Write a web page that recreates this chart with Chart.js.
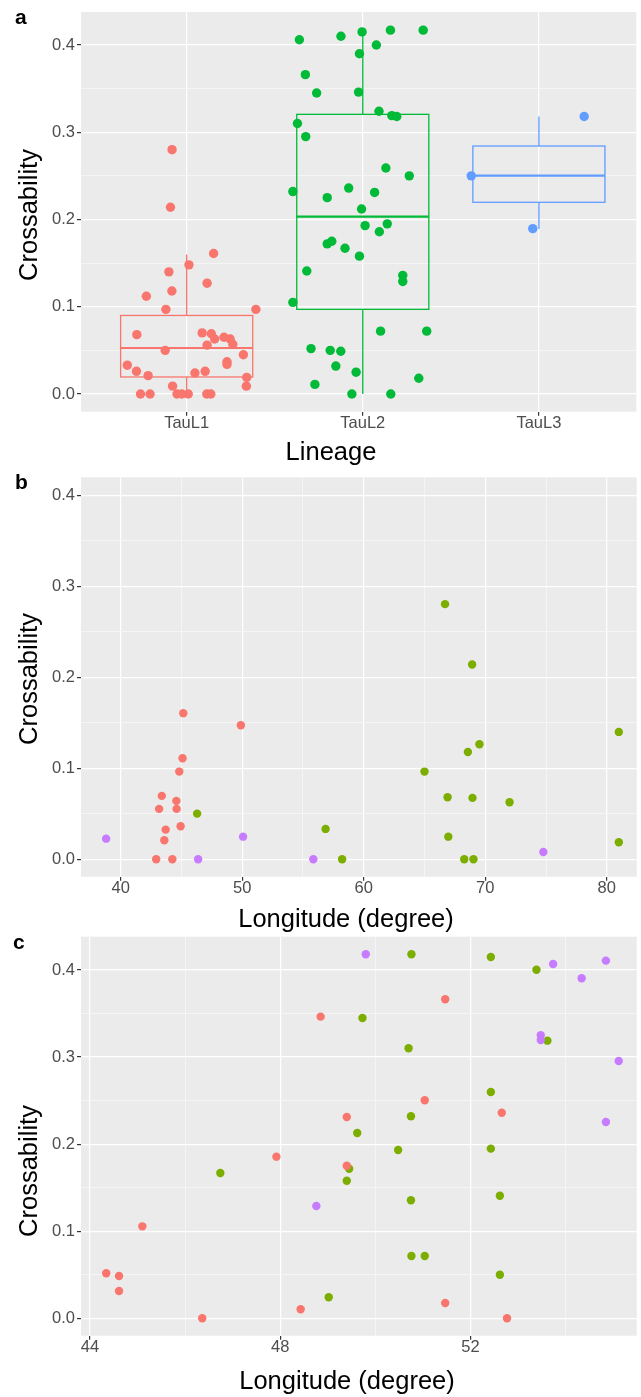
<!DOCTYPE html>
<html>
<head>
<meta charset="utf-8">
<script src="https://cdn.jsdelivr.net/npm/chart.js@4.4.1/dist/chart.umd.min.js"></script>
<style>
  body { margin: 0; background: #fff; width: 641px; height: 1397px; position: relative; overflow: hidden;
         font-family: "Liberation Sans", Arial, sans-serif; color: #000; }
  canvas { position: absolute; left: 0; }
  .tag { position: absolute; font-weight: bold; font-size: 21px; line-height: 1; }
  .xt { position: absolute; font-size: 25.5px; line-height: 1; transform: translateX(-50%); white-space: nowrap; }
  .yt { position: absolute; font-size: 25.5px; line-height: 1; transform: translate(-50%, -50%) rotate(-90deg); white-space: nowrap; }
</style>
</head>
<body>
<canvas id="chartA" width="641" height="470" style="top:0px"></canvas>
<canvas id="chartB" width="641" height="440" style="top:470px"></canvas>
<canvas id="chartC" width="641" height="487" style="top:910px"></canvas>

<div class="tag" style="left:15px; top:5.5px">a</div>
<div class="tag" style="left:15px; top:470.5px">b</div>
<div class="tag" style="left:13px; top:931px">c</div>

<div class="yt" style="left:29px; top:215px">Crossability</div>
<div class="yt" style="left:29px; top:679px">Crossability</div>
<div class="yt" style="left:29px; top:1171px">Crossability</div>

<div class="xt" style="left:331px; top:438.5px">Lineage</div>
<div class="xt" style="left:346px; top:905.7px">Longitude (degree)</div>
<div class="xt" style="left:347px; top:1368.4px">Longitude (degree)</div>

<script>
// ---- panel a: crossability by lineage (jittered points + boxes) ----
const lineages = ['TauL1', 'TauL2', 'TauL3'];

const tauL1Jitter = [0.917, 0.908, 1.153, 1.013, 0.899, 1.116, 0.916, 0.771, 0.882, 1.393, 0.717, 1.088, 1.140,
  1.159, 1.212, 1.247, 1.262, 1.116, 0.878, 1.322, 1.229, 1.229, 0.663, 0.715, 0.781, 1.047, 1.105, 1.341,
  0.920, 1.339, 0.738, 0.792, 0.945, 0.972, 1.009, 1.114, 1.137];
const tauL1Cross = [0.280, 0.214, 0.161, 0.148, 0.140, 0.127, 0.118, 0.112, 0.097, 0.097, 0.068, 0.070, 0.069,
  0.063, 0.065, 0.063, 0.057, 0.056, 0.050, 0.045, 0.037, 0.034, 0.033, 0.026, 0.021, 0.024, 0.026, 0.019,
  0.009, 0.009, 0, 0, 0, 0, 0, 0, 0];

const tauL2Jitter = [1.640, 1.876, 1.996, 2.157, 2.343, 2.077, 1.981, 1.674, 1.738, 1.976, 2.092, 2.165, 2.193,
  1.629, 1.676, 2.131, 2.264, 1.603, 1.920, 2.067, 1.798, 1.993, 2.013, 2.139, 2.094, 1.798, 1.824, 1.899,
  1.981, 1.682, 2.227, 2.227, 1.603, 2.101, 2.363, 1.706, 1.815, 1.875, 1.847, 1.962, 2.318, 1.728, 1.938, 2.159];
const tauL2Cross = [0.406, 0.410, 0.415, 0.417, 0.417, 0.400, 0.390, 0.366, 0.345, 0.346, 0.324, 0.319, 0.318,
  0.310, 0.295, 0.259, 0.250, 0.232, 0.236, 0.231, 0.225, 0.212, 0.193, 0.195, 0.186, 0.172, 0.175, 0.167,
  0.158, 0.141, 0.136, 0.129, 0.105, 0.072, 0.072, 0.052, 0.050, 0.049, 0.032, 0.025, 0.018, 0.011, 0, 0];

const tauL3Jitter = [3.257, 2.616, 2.965];
const tauL3Cross = [0.318, 0.250, 0.1895];

const boxLow = [0, 0, 0.189];
const boxQ1 = [0.0195, 0.097, 0.2197];
const boxMedian = [0.0527, 0.2032, 0.2502];
const boxQ3 = [0.090, 0.3205, 0.2842];
const boxHigh = [0.160, 0.416, 0.318];

// ---- panel b: crossability vs longitude ----
const bGroup1Lon = [45.15, 49.89, 45.09, 44.82, 43.38, 44.58, 43.16, 44.60, 44.93, 43.70, 43.59, 42.92, 44.25];
const bGroup1Cross = [0.1606, 0.1474, 0.1111, 0.0964, 0.0697, 0.0642, 0.0554, 0.0554, 0.0363, 0.0326, 0.0209, 0, 0];
const bGroup2Lon = [46.29, 66.69, 68.92, 80.99, 69.52, 68.57, 65.0, 66.90, 68.95, 72.0, 56.86, 66.96, 80.99, 58.22, 68.27, 69.03];
const bGroup2Cross = [0.0502, 0.2804, 0.2141, 0.1400, 0.1265, 0.1180, 0.0964, 0.0682, 0.0675, 0.0627, 0.0334, 0.0249, 0.0187, 0, 0, 0];
const bGroup3Lon = [38.80, 50.07, 46.37, 55.85, 74.78];
const bGroup3Cross = [0.0227, 0.0249, 0, 0, 0.0081];

// ---- panel c: crossability vs longitude ----
const cGroup1Lon = [48.85, 47.92, 45.10, 44.34, 44.61, 44.61, 46.36, 48.43, 51.47, 51.04, 49.40, 52.66, 49.40, 51.47, 52.77];
const cGroup1Cross = [0.3464, 0.1856, 0.1056, 0.0517, 0.0486, 0.0314, 0, 0.0103, 0.3663, 0.2503, 0.2312, 0.2361, 0.1752, 0.0176, 0];
const cGroup2Lon = [46.74, 50.76, 52.43, 53.39, 49.73, 53.62, 50.70, 52.43, 50.75, 49.62, 50.48, 52.43, 49.45, 49.40,
  52.62, 50.75, 50.76, 51.04, 52.62, 49.02];
const cGroup2Cross = [0.1669, 0.418, 0.4149, 0.4003, 0.3449, 0.3188, 0.3101, 0.2599, 0.232, 0.2128, 0.1933, 0.1948,
  0.1718, 0.158, 0.1408, 0.1355, 0.0715, 0.0715, 0.05, 0.0241];
const cGroup3Lon = [49.80, 53.74, 54.85, 54.34, 53.48, 53.48, 55.12, 54.85, 48.76];
const cGroup3Cross = [0.418, 0.4069, 0.4107, 0.3904, 0.325, 0.3196, 0.2955, 0.2254, 0.129];

// ---- ticks ----
const crossTicks = [0, 0.1, 0.2, 0.3, 0.4];
const crossTickLabels = ['0.0', '0.1', '0.2', '0.3', '0.4'];
const crossMinor = [0.05, 0.15, 0.25, 0.35];
const lineageTicks = [1, 2, 3];
const lonTicksB = [40, 50, 60, 70, 80];
const lonLabelsB = ['40', '50', '60', '70', '80'];
const lonMinorB = [45, 55, 65, 75];
const lonTicksC = [44, 48, 52];
const lonLabelsC = ['44', '48', '52'];
const lonMinorC = [46, 50, 54];

// ---- styling ----
const lineageColors = ['#F8766D', '#00BA38', '#619CFF'];
const groupColors = ['#F8766D', '#7CAE00', '#C77CFF'];
const tickFont = { family: '"Liberation Sans", Arial, sans-serif', size: 16.5, lineHeight: 1 };
const boxHalf = 0.375;

const near = (a, b) => Math.abs(a - b) < 1e-6;
const isMajor = (v, major) => major.some(m => near(m, v));
const pts = (xs, ys) => xs.map((v, i) => ({ x: v, y: ys[i] }));

function gridStyle(major) {
  return {
    color: c => isMajor(c.tick.value, major) ? '#FFFFFF' : '#F5F5F5',
    lineWidth: c => isMajor(c.tick.value, major) ? 1.2 : 1,
    tickColor: c => isMajor(c.tick.value, major) ? '#333333' : 'rgba(0,0,0,0)',
    tickLength: 4
  };
}

function axis(dir, range, major, labels, minor, size) {
  return {
    type: 'linear', min: range[0], max: range[1],
    afterBuildTicks: s => { s.ticks = major.concat(minor).sort((a, b) => a - b).map(v => ({ value: v })); },
    afterFit: s => {
      if (dir === 'y') s.width = size; else s.height = size;
      s.paddingTop = 0; s.paddingBottom = 0; s.paddingLeft = 0; s.paddingRight = 0;
    },
    border: { display: false },
    grid: gridStyle(major),
    ticks: {
      autoSkip: false, maxRotation: 0, padding: dir === 'y' ? 2 : 0,
      color: '#4D4D4D', font: tickFont,
      callback: v => { const i = major.findIndex(m => near(m, v)); return i >= 0 ? labels[i] : ''; }
    }
  };
}

const panelBg = {
  id: 'panelBg',
  beforeDraw(chart) {
    const { ctx, chartArea: a } = chart;
    ctx.save();
    ctx.fillStyle = '#EBEBEB';
    ctx.fillRect(a.left, a.top, a.right - a.left, a.bottom - a.top);
    ctx.restore();
  }
};

const boxes = {
  id: 'boxes',
  beforeDatasetsDraw(chart) {
    const { ctx, scales: { x, y } } = chart;
    ctx.save();
    lineages.forEach((name, i) => {
      const pos = lineageTicks[i];
      const xl = x.getPixelForValue(pos - boxHalf);
      const xr = x.getPixelForValue(pos + boxHalf);
      const xc = x.getPixelForValue(pos);
      const yq1 = y.getPixelForValue(boxQ1[i]);
      const yq3 = y.getPixelForValue(boxQ3[i]);
      ctx.strokeStyle = lineageColors[i];
      ctx.lineWidth = 1.3;
      ctx.strokeRect(xl, yq3, xr - xl, yq1 - yq3);
      ctx.beginPath();
      ctx.moveTo(xc, yq3); ctx.lineTo(xc, y.getPixelForValue(boxHigh[i]));
      ctx.moveTo(xc, yq1); ctx.lineTo(xc, y.getPixelForValue(boxLow[i]));
      ctx.stroke();
      const ym = y.getPixelForValue(boxMedian[i]);
      ctx.lineWidth = 2.2;
      ctx.beginPath(); ctx.moveTo(xl, ym); ctx.lineTo(xr, ym); ctx.stroke();
    });
    ctx.restore();
  }
};

function dot(data, color, r) {
  return { data, backgroundColor: color, borderWidth: 0, pointRadius: r, pointHoverRadius: r };
}

function scatter(id, datasets, xAxis, yAxis, topPad, plugins) {
  return new Chart(document.getElementById(id), {
    type: 'scatter',
    data: { datasets },
    options: {
      responsive: false, animation: false, events: [],
      layout: { padding: { top: topPad, left: 0, right: 0, bottom: 0 } },
      plugins: { legend: { display: false }, tooltip: { enabled: false } },
      scales: { x: xAxis, y: yAxis }
    },
    plugins: [panelBg].concat(plugins || [])
  });
}

// panel a
scatter('chartA', [
  dot(pts(tauL3Jitter, tauL3Cross), lineageColors[2], 4.7),
  dot(pts(tauL2Jitter, tauL2Cross), lineageColors[1], 4.7),
  dot(pts(tauL1Jitter, tauL1Cross), lineageColors[0], 4.7)
],
  axis('x', [0.4, 3.553], lineageTicks, lineages, [], 58.3),
  axis('y', [-0.0203, 0.4378], crossTicks, crossTickLabels, crossMinor, 81),
  12, [boxes]);

// panel b
scatter('chartB', [
  dot(pts(bGroup1Lon, bGroup1Cross), groupColors[0], 4.2),
  dot(pts(bGroup3Lon, bGroup3Cross), groupColors[2], 4.2),
  dot(pts(bGroup2Lon, bGroup2Cross), groupColors[1], 4.2)
],
  axis('x', [36.733, 82.47], lonTicksB, lonLabelsB, lonMinorB, 33.3),
  axis('y', [-0.0191, 0.4198], crossTicks, crossTickLabels, crossMinor, 81),
  7.3);

// panel c
scatter('chartC', [
  dot(pts(cGroup1Lon, cGroup1Cross), groupColors[0], 4.2),
  dot(pts(cGroup3Lon, cGroup3Cross), groupColors[2], 4.2),
  dot(pts(cGroup2Lon, cGroup2Cross), groupColors[1], 4.2)
],
  axis('x', [43.81, 55.50], lonTicksC, lonLabelsC, lonMinorC, 61.3),
  axis('y', [-0.0200, 0.4382], crossTicks, crossTickLabels, crossMinor, 81),
  26.7);
</script>
</body>
</html>
